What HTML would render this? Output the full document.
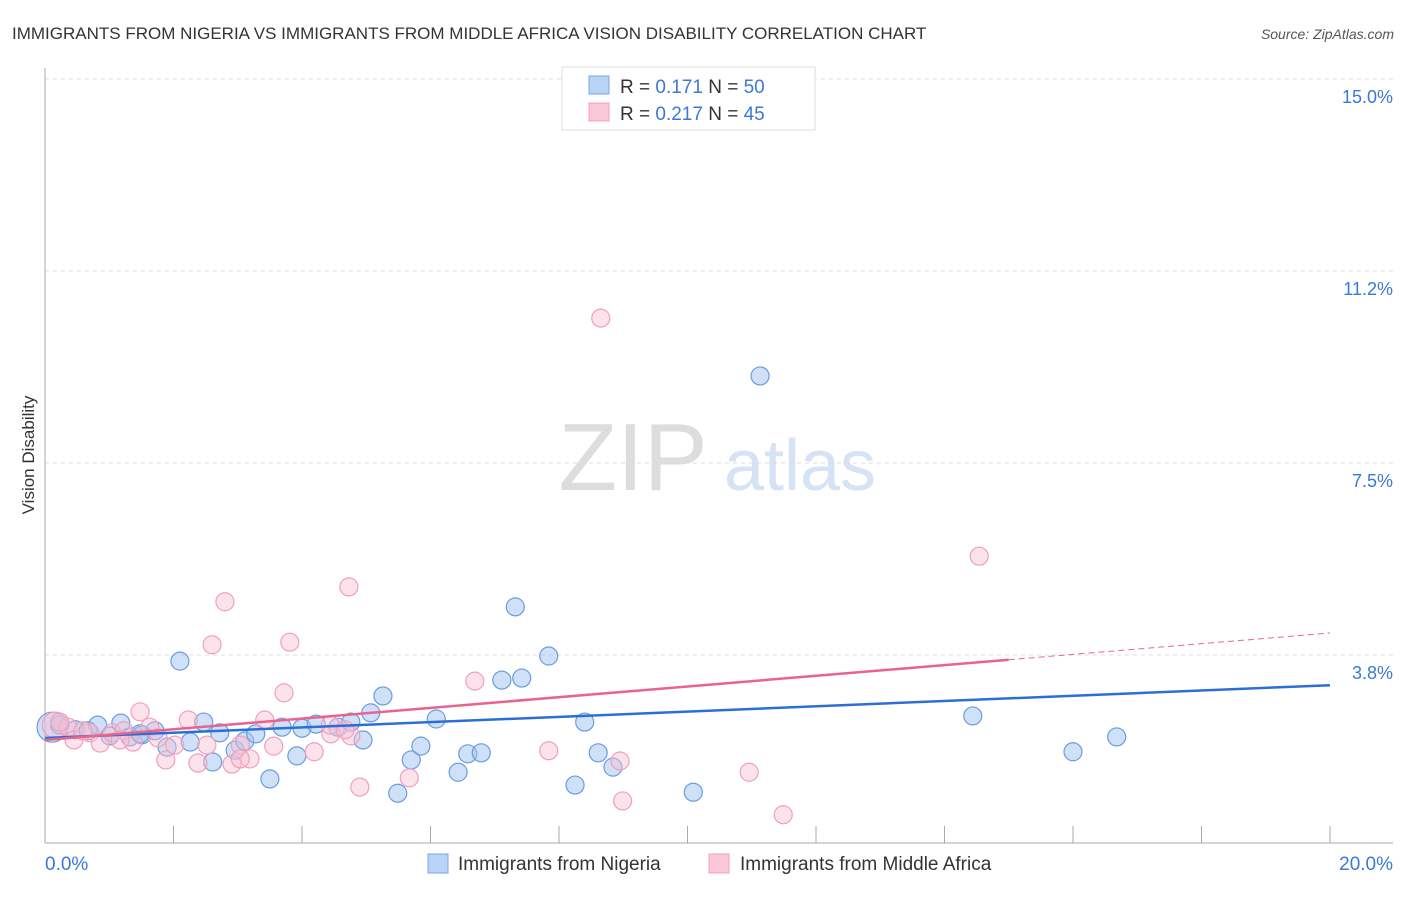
<!DOCTYPE html>
<html><head><meta charset="utf-8"><style>
body{margin:0;background:#fff;font-family:"Liberation Sans",sans-serif;}
svg text{font-family:"Liberation Sans",sans-serif;}
</style></head><body>
<svg width="1406" height="892" xmlns="http://www.w3.org/2000/svg">
<text x="12" y="39" font-size="17" fill="#333">IMMIGRANTS FROM NIGERIA VS IMMIGRANTS FROM MIDDLE AFRICA VISION DISABILITY CORRELATION CHART</text>
<text x="1394" y="39" font-size="14" fill="#555" font-style="italic" text-anchor="end">Source: ZipAtlas.com</text>
<g>
<text x="633" y="490" font-size="96" font-family="Liberation Serif" fill="#ddd" text-anchor="middle">ZIP</text>
<text x="800" y="490" font-size="72" fill="#d6e3f5" text-anchor="middle">atlas</text>
</g>
<text x="34" y="455" font-size="17" fill="#333" transform="rotate(-90 34 455)" text-anchor="middle">Vision Disability</text>
<g id="grid"></g>
<g id="axes"></g>
<g id="pts"></g>
<g id="lines"></g>
<g>
<rect x="562" y="67" width="253" height="63" fill="#fff" stroke="#ddd"/>
<rect x="589" y="76" width="20" height="18" fill="#b8d3f5" stroke="#7aa6e6"/>
<rect x="589" y="103" width="20" height="18" fill="#fbc8d9" stroke="#f0a0bc"/>
<text x="620" y="93" font-size="19" fill="#333">R = <tspan fill="#3b78d8">0.171</tspan>   N = <tspan fill="#3b78d8">50</tspan></text>
<text x="620" y="120" font-size="19" fill="#333">R = <tspan fill="#3b78d8">0.217</tspan>   N = <tspan fill="#3b78d8">45</tspan></text>
</g>
<g>
<rect x="428" y="854" width="20" height="19" fill="#b8d3f5" stroke="#7aa6e6"/>
<text x="458" y="870" font-size="19" fill="#333">Immigrants from Nigeria</text>
<rect x="709" y="854" width="20" height="19" fill="#fbc8d9" stroke="#f0a0bc"/>
<text x="740" y="870" font-size="19" fill="#333">Immigrants from Middle Africa</text>
</g>
<text x="45" y="870" font-size="19" fill="#3b78d8">0.0%</text>
<text x="1393" y="870" font-size="19" fill="#3b78d8" text-anchor="end">20.0%</text>
</svg>
<script>
const yTicks=[15.0,11.25,7.5,3.75];
const yTickLabels=["15.0%","11.2%","7.5%","3.8%"];
const xTicks=[0,2,4,6,8,10,12,14,16,18,20];
const blueX=[.11,.23,.47,.67,.82,1.01,1.18,1.32,1.51,1.71,1.90,2.10,2.26,2.47,2.61,2.72,2.96,3.11,3.28,3.50,3.69,3.92,4.00,4.22,4.56,4.76,4.95,5.07,5.26,5.49,5.70,5.85,6.09,6.43,6.58,6.79,7.11,7.32,7.42,7.84,8.25,8.40,8.61,8.84,10.09,11.13,14.44,16.00,16.68,1.48];
const blueY=[2.34,2.38,2.29,2.27,2.38,2.17,2.42,2.15,2.19,2.27,1.95,3.63,2.05,2.44,1.66,2.23,1.89,2.07,2.21,1.33,2.34,1.78,2.32,2.40,2.34,2.44,2.09,2.62,2.95,1.05,1.70,1.97,2.50,1.46,1.82,1.84,3.26,4.69,3.30,3.73,1.21,2.44,1.84,1.56,1.07,9.20,2.56,1.86,2.15,2.21];
const pinkX=[.16,.36,.45,.70,.86,1.04,1.23,1.37,1.48,1.63,1.76,1.88,2.02,2.23,2.38,2.52,2.60,2.80,2.91,3.04,3.19,3.42,3.56,3.72,3.81,4.19,4.45,4.73,4.76,4.90,5.67,6.69,7.84,8.65,8.95,8.99,10.96,11.49,14.54,.23,.59,1.17,3.04,4.44,4.67];
const pinkY=[2.38,2.34,2.09,2.23,2.03,2.23,2.27,2.05,2.64,2.34,2.13,1.70,1.99,2.48,1.64,1.99,3.95,4.79,1.62,1.99,1.72,2.48,1.97,3.01,4.00,1.86,2.21,5.08,2.17,1.17,1.35,3.24,1.88,10.33,1.68,0.90,1.46,0.63,5.68,2.44,2.27,2.09,1.72,2.38,2.29];
const blueTrend=[2.13,3.16];
const pinkTrend=[2.09,4.18];
const pinkSolidEnd=15;
const NS="http://www.w3.org/2000/svg";
const xs=v=>45+v*64.25, ys=v=>847-v*51.2;
function mk(tag,attrs,parent){const e=document.createElementNS(NS,tag);for(const k in attrs)e.setAttribute(k,attrs[k]);document.getElementById(parent).appendChild(e);return e;}
yTicks.forEach((t,i)=>{
 const g=mk('line',{x1:45,x2:1393,y1:ys(t),y2:ys(t),stroke:'#ddd','stroke-dasharray':'4,4'},'grid');
 
 
 const l=mk('text',{x:1393,y:ys(t)+24,'font-size':18,fill:'#3b78d8','text-anchor':'end'},'grid');
 l.textContent=yTickLabels[i];
 
 
});
const ax=mk('line',{x1:45,x2:45,y1:68,y2:843,stroke:'#aaa'},'axes');


const bx=mk('line',{x1:45,x2:1393,y1:843,y2:843,stroke:'#aaa'},'axes');


xTicks.forEach(t=>{
 const tk=mk('line',{x1:xs(t),x2:xs(t),y1:826,y2:843,stroke:'#aaa'},'axes');
 
 
});
blueX.forEach((x,i)=>{
 const c=mk('circle',{cx:xs(x),cy:ys(blueY[i]),r:i==0?15:9,fill:'rgba(160,196,240,0.5)',stroke:'#6c9be0','stroke-width':1.2},'pts');
 
 
});
pinkX.forEach((x,i)=>{
 const c=mk('circle',{cx:xs(x),cy:ys(pinkY[i]),r:i==0?13:9,fill:'rgba(248,190,210,0.45)',stroke:'#f0a0bc','stroke-width':1.2},'pts');
 
 
});
const bl=mk('line',{x1:xs(0),x2:xs(20),y1:ys(blueTrend[0]),y2:ys(blueTrend[1]),stroke:'#2a6fd6','stroke-width':2.5},'lines');


const pm=pinkTrend[0]+(pinkTrend[1]-pinkTrend[0])*pinkSolidEnd/20;
const pl=mk('line',{x1:xs(0),x2:xs(pinkSolidEnd),y1:ys(pinkTrend[0]),y2:ys(pm),stroke:'#e8648e','stroke-width':2.5},'lines');


const pd=mk('line',{x1:xs(pinkSolidEnd),x2:xs(20),y1:ys(pm),y2:ys(pinkTrend[1]),stroke:'#e8648e','stroke-width':1,'stroke-dasharray':'6,4'},'lines');


</script>
</body></html>
